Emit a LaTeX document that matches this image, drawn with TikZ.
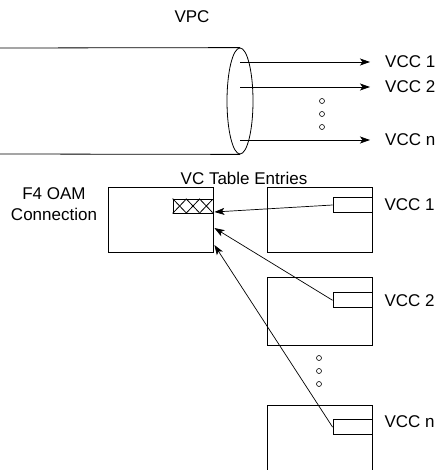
\documentclass[tikz,border=0pt]{standalone}
\usepackage{fontspec}
\setmainfont{Liberation Sans}
\usetikzlibrary{arrows.meta, positioning, shapes.geometric, calc}

\begin{document}
\begin{tikzpicture}[
  x=1pt, y=-1pt,
  every node/.style={font=\fontsize{17}{21}\selectfont},
  thinline/.style={line width=0.8pt},
  arrow/.style={-{Stealth[length=10pt, width=7pt, inset=2.5pt]}, line width=0.7pt},
  tblbox/.style={rectangle, draw, line width=0.8pt, minimum width=105pt, inner sep=0pt},
  entbox/.style={rectangle, draw, line width=0.8pt, minimum width=39pt,
                 minimum height=15pt, inner sep=0pt},
  smalldot/.style={circle, draw, line width=0.6pt, minimum size=5pt, inner sep=0pt},
  lbl/.style={inner sep=0pt},
]
\useasboundingbox (0,0) rectangle (440,470);
% the path with its channels
\node (vpc) at (192,17) {VPC};
\node[ellipse, draw, line width=0.8pt, minimum width=26pt, minimum height=106pt,
      inner sep=0pt] (pipe) at (240,101) {};
\coordinate (ptop) at (0,48);
\coordinate (pbot) at (0,154);
\draw[thinline] (ptop) -- (pipe.north);
\draw[thinline] (pbot) -- (pipe.south);
\coordinate (s1) at (240,62);  \coordinate (e1) at (370,62);
\coordinate (s2) at (240,87);  \coordinate (e2) at (370,87);
\coordinate (sn) at (240,140); \coordinate (en) at (370,140);
\node[lbl, right=15pt of e1] (vcc1) {VCC 1};
\node[lbl, right=15pt of e2] (vcc2) {VCC 2};
\node[lbl, right=15pt of en] (vccn) {VCC n};
\draw[arrow] (s1) -- (e1);
\draw[arrow] (s2) -- (e2);
\draw[arrow] (sn) -- (en);
\foreach \y in {101,114,127}
  \node[smalldot] (u\y) at (322,\y) {};
% table entries
\node (vct) at (244,178) {VC Table Entries};
\node[align=center] (f4) at (54,204) {F4 OAM\\Connection};
\node[tblbox, minimum height=65pt] (oam) at (160.5,219.5) {};
\node[entbox, minimum width=40pt, minimum height=14pt, anchor=east] (xbox)
      at ([yshift=13.5pt]oam.east) {};
\foreach \i in {0,1,2} {
  \draw[thinline] ($(xbox.north west)+(\i*40/3,0)$) -- ++(40/3,14);
  \draw[thinline] ($(xbox.south west)+(\i*40/3,0)$) -- ++(40/3,-14);
}
\node[tblbox, minimum height=65pt] (tab1) at (319.5,219.5) {};
\node[tblbox, minimum height=68pt, below=25pt of tab1] (tab2) {};
\node[tblbox, minimum height=80pt, below=59pt of tab2] (tabn) {};
\node[entbox, anchor=east] (ent1) at ([yshift=14.5pt]tab1.east) {};
\node[entbox, anchor=east] (ent2) at ([yshift=11.5pt]tab2.east) {};
\node[entbox, anchor=north east] (entn) at ([yshift=-14pt]tabn.north east) {};
\node[lbl, right=12pt of ent1] (vcct1) {VCC 1};
\node[lbl, right=12pt of ent2] (vcct2) {VCC 2};
\node[lbl, anchor=west] (vcctn) at ([xshift=12pt,yshift=5pt]entn.east) {VCC n};
\foreach \y in {358,371,384}
  \node[smalldot] (l\y) at (319,\y) {};
\draw[arrow] (ent1.west) -- ([xshift=1pt,yshift=7.5pt]oam.east);
\draw[arrow] (ent2.west) -- ([xshift=1pt,yshift=-8.5pt]oam.east);
\draw[arrow] (entn.west) -- ([xshift=1pt,yshift=-25.5pt]oam.east);
\end{tikzpicture}
\end{document}
